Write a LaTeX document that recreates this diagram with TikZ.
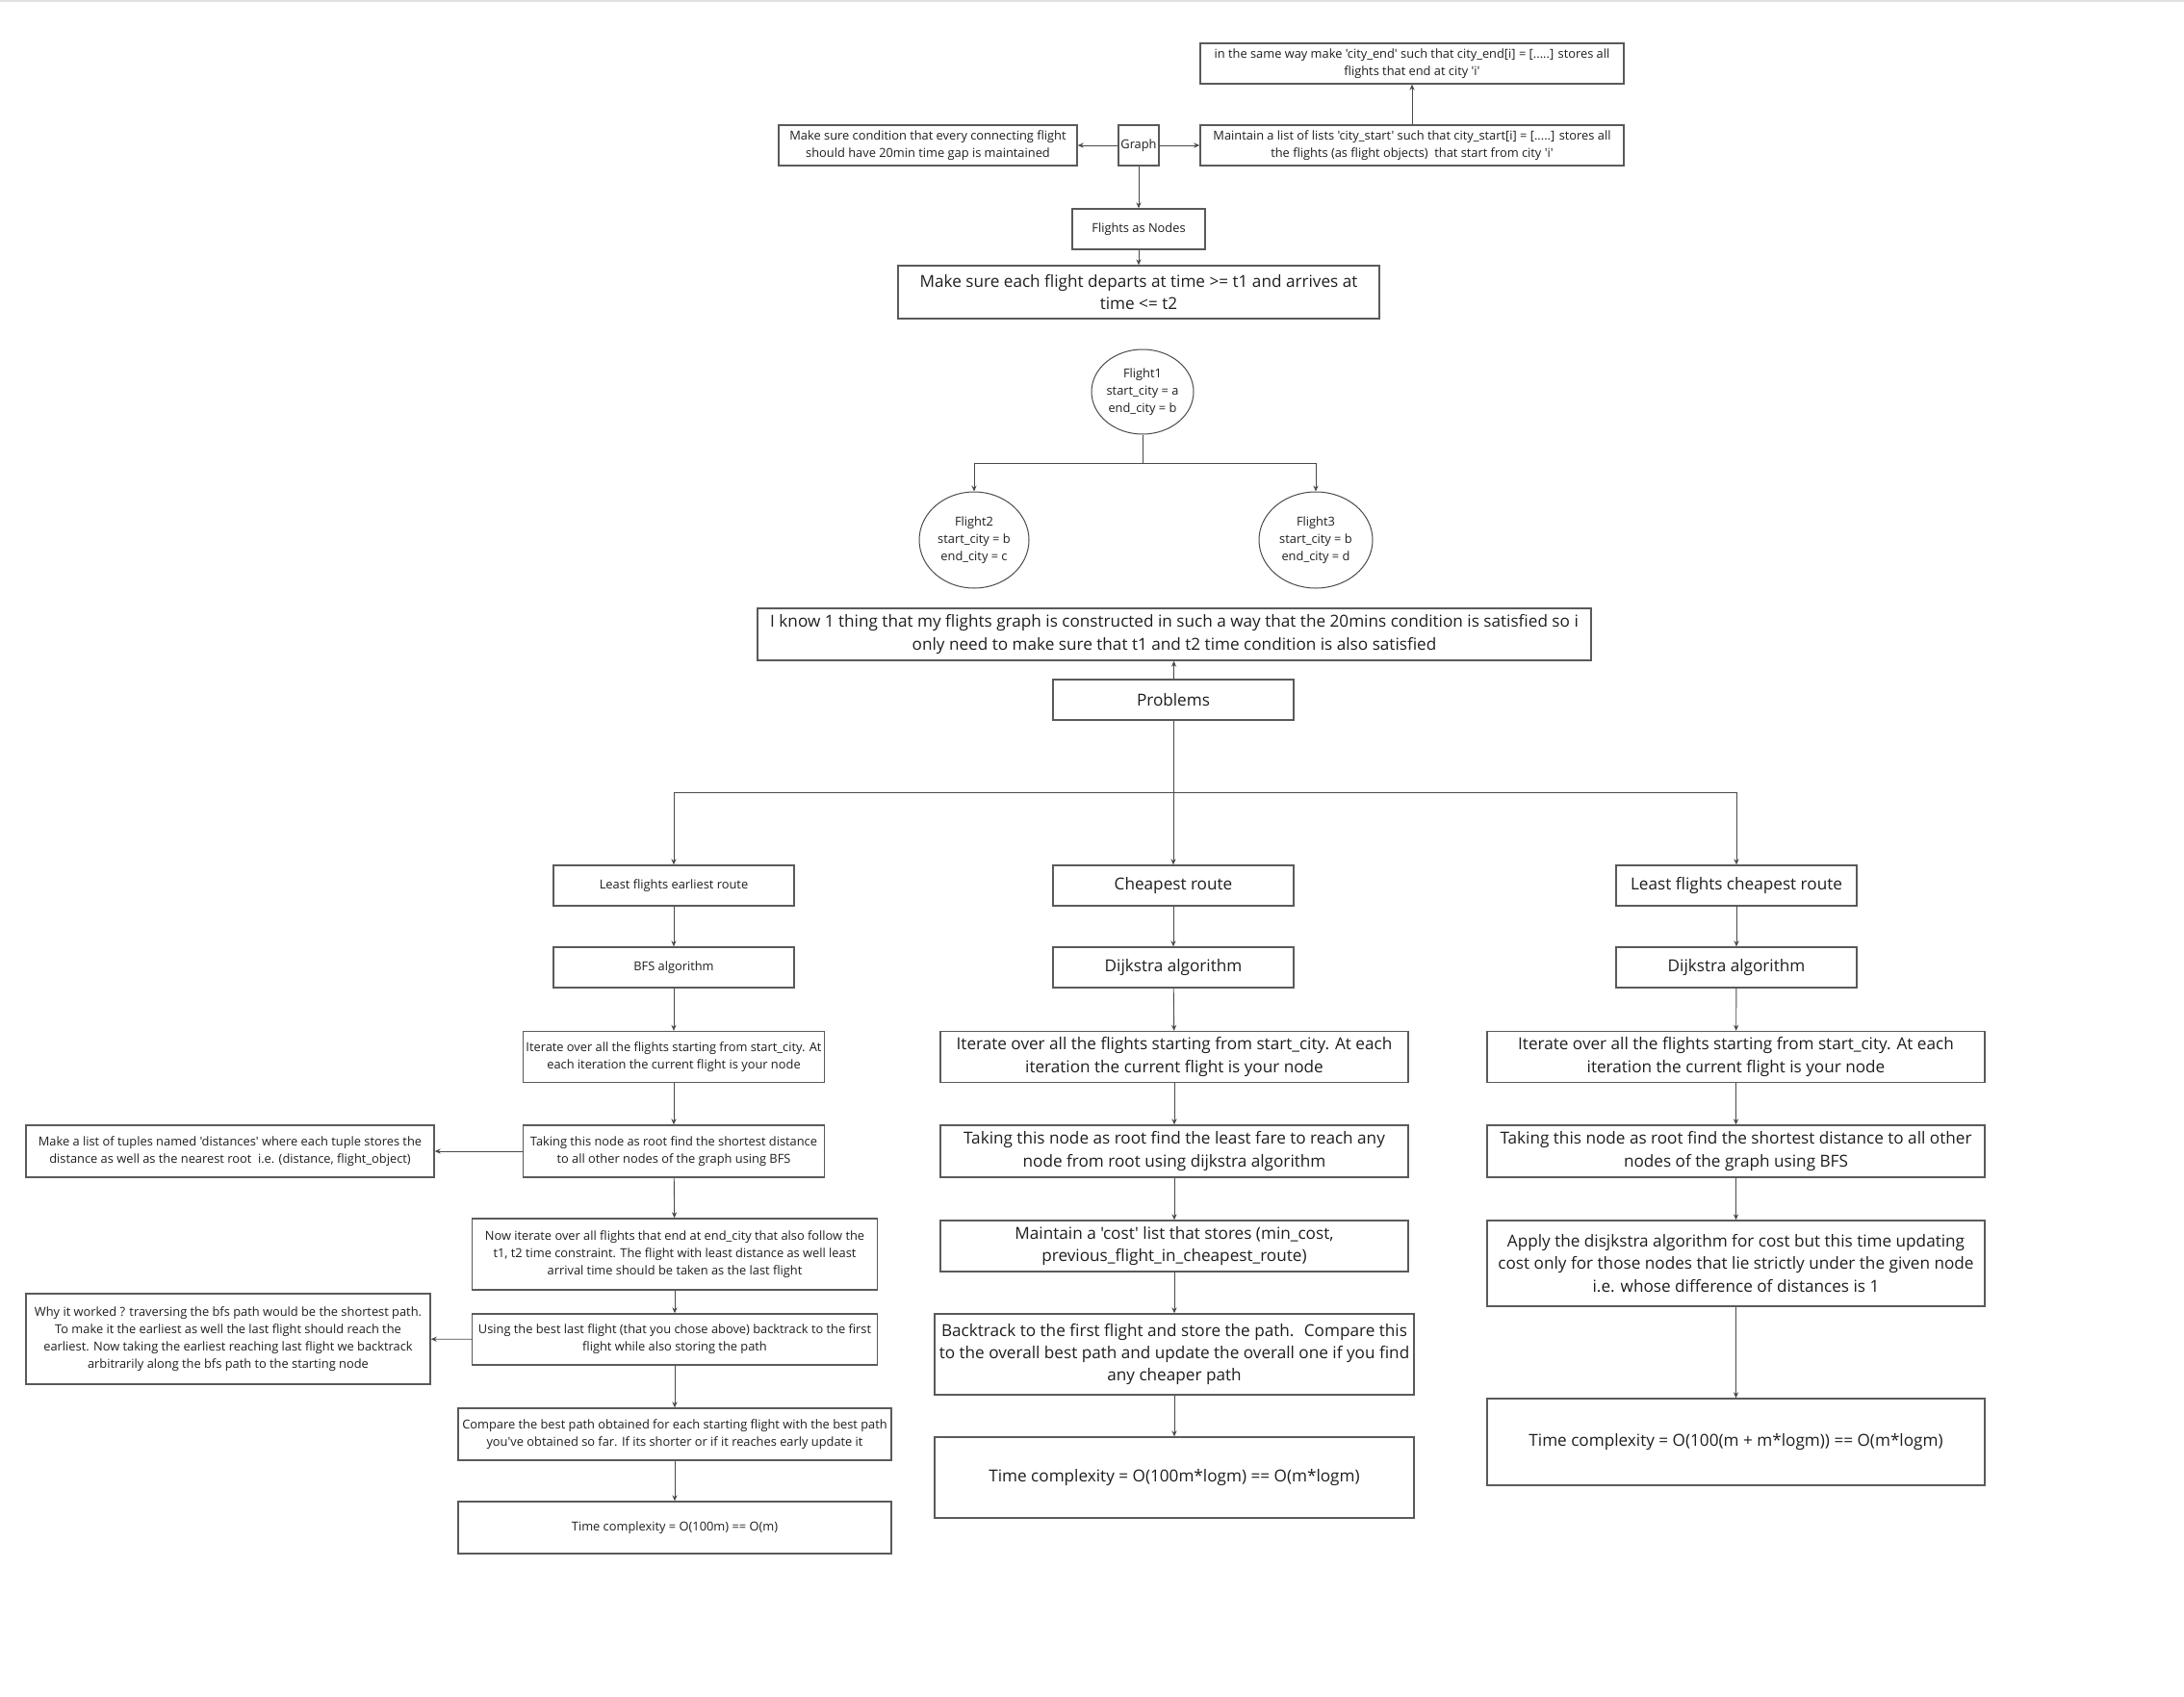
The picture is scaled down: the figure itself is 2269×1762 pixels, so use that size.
\documentclass[tikz,border=0pt]{standalone}
\usepackage{fontspec}
\setmainfont{Open Sans}[Ligatures=TeXOff]
\usetikzlibrary{arrows.meta,shapes.geometric}
\definecolor{edge}{HTML}{5A5A5A}
\definecolor{wire}{HTML}{4A4A4A}
\definecolor{ink}{HTML}{1E1E1E}
\tikzset{
  box/.style={draw=edge, line width=0.7pt, rectangle, inner sep=0pt, align=center, text=ink},
  oval/.style={draw=wire, line width=0.5pt, ellipse, inner sep=0pt, align=center, text=ink},
  sz/.style 2 args={minimum width={#1*0.5pt}, minimum height={#2*0.5pt}},
  sm/.style={font=\fontsize{6.42}{9.1}\selectfont},
  lg/.style={font=\fontsize{8.58}{11.6}\selectfont},
  link/.style={draw=wire, line width=0.45pt, -{Stealth[length=3pt,width=2.6pt]}},
}
\begin{document}
\begin{tikzpicture}[x=0.5pt,y=-0.5pt]
\useasboundingbox (0,0) rectangle (2269,1762);
\draw[black!12, line width=0.6pt] (0,1) -- (2269,1);

% --- graph construction ---
\node[box,sm,sz={440}{42}] (cityend) at (1467,66)
  {in the same way make 'city\_end' such that city\_end[i] = [.....] stores all\\flights that end at city 'i'};
\node[box,sm,sz={440}{42}] (citystart) at (1467,151)
  {Maintain a list of lists 'city\_start' such that city\_start[i] = [.....] stores all\\the flights (as flight objects)~ that start from city 'i'};
\node[box,sm,sz={42}{42}] (graph) at (1183,151) {Graph};
\node[box,sm,sz={310}{42}] (cond) at (964,151)
  {Make sure condition that every connecting flight\\should have 20min time gap is maintained};
\node[box,sm,sz={138}{42}] (fan) at (1183,238) {Flights as Nodes};
\node[box,lg,sz={500}{55}] (each) at (1183,303.5)
  {Make sure each flight departs at time >= t1 and arrives at\\time <= t2};

\draw[link] (graph) -- (cond);
\draw[link] (graph) -- (citystart);
\draw[link] (citystart) -- (cityend);
\draw[link] (graph) -- (fan);
\draw[link] (fan) -- (each);

% --- example flights ---
\node[oval,sm,sz={106}{88}] (f1) at (1187,407) {Flight1\\start\_city = a\\end\_city = b};
\node[oval,sm,sz={114}{100}] (f2) at (1012,561) {Flight2\\start\_city = b\\end\_city = c};
\node[oval,sm,sz={118}{100}] (f3) at (1367,561) {Flight3\\start\_city = b\\end\_city = d};
\coordinate (split) at (1187,481);
\draw[link] (f1.south) -- (split) -| (f2.north);
\draw[link] (split) -| (f3.north);

% --- problems ---
\node[box,lg,sz={866}{54}] (know) at (1220,659)
  {I know 1 thing that my flights graph is constructed in such a way that the 20mins condition is satisfied so i\\only need to make sure that t1 and t2 time condition is also satisfied};
\node[box,lg,sz={250}{42}] (prob) at (1219,727) {Problems};
\draw[link] (prob) -- (know);

% --- least flights earliest route ---
\node[box,sm,sz={250}{42}] (l1) at (700,920) {Least flights earliest route};
\node[box,sm,sz={250}{42}] (l2) at (700,1005) {BFS algorithm};
\node[box,sm,sz={313}{53}] (l3) at (700,1098)
  {Iterate over all the flights starting from start\_city. At\\each iteration the current flight is your node};
\node[box,sm,sz={313}{54}] (l4) at (700,1196)
  {Taking this node as root find the shortest distance\\to all other nodes of the graph using BFS};
\node[box,sm,sz={424}{54}] (s1) at (239,1196)
  {Make a list of tuples named 'distances' where each tuple stores the\\distance as well as the nearest root~ i.e. (distance, flight\_object)};
\node[box,sm,sz={421}{74}] (l5) at (701,1303)
  {Now iterate over all flights that end at end\_city that also follow the\\t1, t2 time constraint. The flight with least distance as well least\\arrival time should be taken as the last flight};
\node[box,sm,sz={421}{53}] (l6) at (701,1391.5)
  {Using the best last flight (that you chose above) backtrack to the first\\flight while also storing the path};
\node[box,sm,sz={420}{94}] (s2) at (237,1391)
  {Why it worked ? traversing the bfs path would be the shortest path.\\To make it the earliest as well the last flight should reach the\\earliest. Now taking the earliest reaching last flight we backtrack\\arbitrarily along the bfs path to the starting node};
\node[box,sm,sz={450}{54}] (l7) at (701,1490)
  {Compare the best path obtained for each starting flight with the best path\\you've obtained so far. If its shorter or if it reaches early update it};
\node[box,sm,sz={450}{54}] (l8) at (701,1587) {Time complexity = O(100m) == O(m)};

% --- cheapest route ---
\node[box,lg,sz={250}{42}] (m1) at (1219,920) {Cheapest route};
\node[box,lg,sz={250}{42}] (m2) at (1219,1005) {Dijkstra algorithm};
\node[box,lg,sz={486}{53}] (m3) at (1220,1098)
  {Iterate over all the flights starting from start\_city. At each\\iteration the current flight is your node};
\node[box,lg,sz={486}{54}] (m4) at (1220,1196)
  {Taking this node as root find the least fare to reach any\\node from root using dijkstra algorithm};
\node[box,lg,sz={486}{53}] (m5) at (1220,1294.5)
  {Maintain a 'cost' list that stores (min\_cost,\\previous\_flight\_in\_cheapest\_route)};
\node[box,lg,sz={498}{84}] (m6) at (1220,1407)
  {Backtrack to the first flight and store the path.~ Compare this\\to the overall best path and update the overall one if you find\\any cheaper path};
\node[box,lg,sz={498}{84}] (m7) at (1220,1535) {Time complexity = O(100m*logm) == O(m*logm)};

% --- least flights cheapest route ---
\node[box,lg,sz={250}{42}] (r1) at (1804,920) {Least flights cheapest route};
\node[box,lg,sz={250}{42}] (r2) at (1804,1005) {Dijkstra algorithm};
\node[box,lg,sz={517}{53}] (r3) at (1803.5,1098)
  {Iterate over all the flights starting from start\_city. At each\\iteration the current flight is your node};
\node[box,lg,sz={517}{54}] (r4) at (1803.5,1196)
  {Taking this node as root find the shortest distance to all other\\nodes of the graph using BFS};
\node[box,lg,sz={517}{89}] (r5) at (1803.5,1312.5)
  {Apply the disjkstra algorithm for cost but this time updating\\cost only for those nodes that lie strictly under the given node\\i.e. whose difference of distances is 1};
\node[box,lg,sz={517}{90}] (r6) at (1803.5,1498) {Time complexity = O(100(m + m*logm)) == O(m*logm)};

% --- branching from problems ---
\coordinate (fork) at (1219,823);
\draw[link] (prob) -- (m1);
\draw[link] (fork) -| (l1.north);
\draw[link] (fork) -| (r1.north);

% --- column flows ---
\draw[link] (l1) -- (l2);
\draw[link] (l2) -- (l3);
\draw[link] (l3) -- (l4);
\draw[link] (l4) -- (s1);
\draw[link] (l4) -- (l5);
\draw[link] (l5) -- (l6);
\draw[link] (l6) -- (s2);
\draw[link] (l6) -- (l7);
\draw[link] (l7) -- (l8);

\draw[link] (m1) -- (m2);
\draw[link] (m2) -- (m3);
\draw[link] (m3) -- (m4);
\draw[link] (m4) -- (m5);
\draw[link] (m5) -- (m6);
\draw[link] (m6) -- (m7);

\draw[link] (r1) -- (r2);
\draw[link] (r2) -- (r3);
\draw[link] (r3) -- (r4);
\draw[link] (r4) -- (r5);
\draw[link] (r5) -- (r6);
\end{tikzpicture}
\end{document}
